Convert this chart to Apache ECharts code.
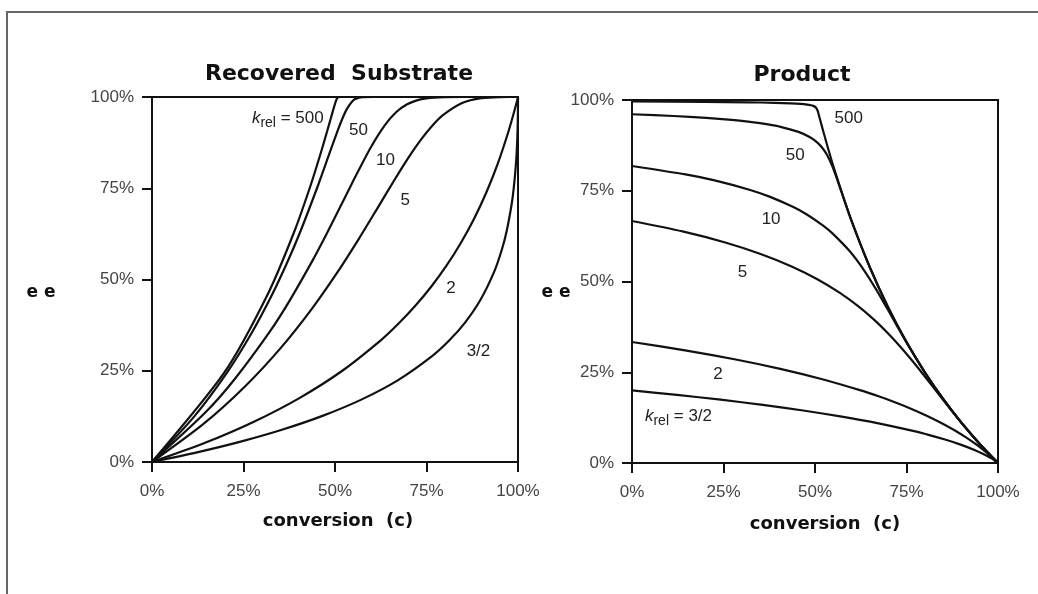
<!DOCTYPE html>
<html><head><meta charset="utf-8">
<script src="https://cdn.jsdelivr.net/npm/echarts@6/dist/echarts.min.js"></script>
<style>html,body{margin:0;padding:0;background:#fff}#c{width:1038px;height:594px}</style>
</head><body><div id="c"></div>
<script>
// Tick values (fractions shown as %)
const xTicks = [0, 0.25, 0.5, 0.75, 1];
const yTicks = [0, 0.25, 0.5, 0.75, 1];
const kNames = ['3/2', '2', '5', '10', '50', '500'];

// conversion c, substrate ee, product ee for each k_rel
const c_15   = [0, .12309, .24223, .35717, .46762, .57322, .67351, .76784, .8125, .85528, .89595, .93419, .95574, .96941, .98240, .98859, .9945, .99732, .99896, .99948, .99974, .99995, 1];
const eeS_15 = [0, .02634, .05573, .08893, .12701, .17157, .22515, .29221, .33333, .38197, .44165, .51950, .58156, .63452, .70474, .75224, .81818, .86777, .91443, .9387, .95626, .9802, 1];
const eeP_15 = [.2, .1876, .17434, .16006, .14460, .12774, .10914, .08835, .07692, .06463, .05129, .03660, .02693, .02002, .01262, .00869, .00452, .00233, .00096, .0005, .00026, .00005, 0];

const c_2   = [0, .145, .28, .405, .52, .625, .67375, .72, .76375, .805, .84375, .88, .91375, .945, .97375, .9898, .99495, .99749, .9995, 1];
const eeS_2 = [0, .05263, .11111, .17647, .25, .33333, .37931, .42857, .48148, .53846, .6, .66667, .73913, .81818, .90476, .96078, .9802, .99005, .998, 1];
const eeP_2 = [.33333, .31034, .28571, .25926, .23077, .2, .18367, .16667, .14894, .13043, .11111, .09091, .06977, .04762, .02439, .0099, .004975, .0025, .0005, 0];

const c_5   = [0, .13811, .25476, .35315, .43616, .50635, .56597, .61699, .66112, .69984, .73438, .76577, .79488, .84879, .89984, .95, 1];
const eeS_5 = [0, .10223, .20766, .31405, .41884, .51929, .61277, .69706, .77054, .83233, .88235, .92122, .95008, .98393, .99681, .9998, 1];
const eeP_5 = [.66667, .63797, .60747, .57524, .54145, .50627, .46993, .43273, .39497, .35699, .31915, .28177, .24517, .17529, .11095, .05263, 0];

const c_10   = [0, .14629, .22563, .32281, .37566, .44079, .47656, .52128, .54631, .59684, .63588, .66827, .69698, .72373, .74951, .79995, .85, .9, .95, 1];
const eeS_10 = [0, .13622, .22680, .35855, .44152, .55577, .62389, .71288, .76334, .86032, .92242, .95942, .98005, .99083, .99610, .99948, .99999, 1, 1, 1];
const eeP_10 = [.81818, .79493, .77840, .75218, .73380, .70508, .68525, .65470, .63391, .58113, .52821, .47626, .42609, .37823, .33290, .24995, .17647, .11111, .05263, 0];

const c_50   = [0, .11334, .2025, .27266, .32792, .37151, .40597, .45506, .48653, .50733, .52172, .53227, .54742, .55916, .57485, .6, .65, .7, .75, .8, .85, .9, .95, 1];
const eeS_50 = [0, .12219, .24137, .35425, .45815, .55133, .63290, .76165, .85015, .90799, .94449, .96693, .98861, .99620, .99930, 1, 1, 1, 1, 1, 1, 1, 1, 1];
const eeP_50 = [.96078, .95589, .95062, .94499, .93901, .93271, .92610, .91210, .89723, .88174, .86583, .84969, .81733, .78539, .73906, .66667, .53846, .42857, .33333, .25, .17647, .11111, .05263, 0];

const c_500   = [0, .19731, .31725, .39019, .43461, .46173, .47833, .48858, .49499, .50171, .50724, .50998, .515, .525, .55, .6, .65, .7, .75, .8, .85, .9, .95, 1];
const eeS_500 = [0, .24457, .46172, .63492, .76160, .84850, .90542, .94166, .96430, .98682, .99894, .99992, 1, 1, 1, 1, 1, 1, 1, 1, 1, 1, 1, 1];
const eeP_500 = [.99601, .99493, .99370, .99231, .99080, .98917, .98746, .98567, .98384, .98007, .97043, .96071, .94175, .90476, .81818, .66667, .53846, .42857, .33333, .25, .17647, .11111, .05263, 0];

// annotation anchors (data coordinates, label centres)
const subLabelAt  = [[0.892, 0.302], [0.817, 0.477], [0.692, 0.716], [0.638, 0.827], [0.564, 0.91], [0.371, 0.942]];
const prodLabelAt = [[0.127, 0.128], [0.235, 0.243], [0.302, 0.525], [0.380, 0.670], [0.446, 0.849], [0.592, 0.950]];

const convs = [c_15, c_2, c_5, c_10, c_50, c_500];
const subs = [eeS_15, eeS_2, eeS_5, eeS_10, eeS_50, eeS_500];
const prods = [eeP_15, eeP_2, eeP_5, eeP_10, eeP_50, eeP_500];

const pair = (xs, ys) => xs.map((x, i) => [x, ys[i]]);
const pct = v => Math.round(v * 100) + '%';
const INK = '#111';
const richK = {
  k: {fontStyle: 'italic', fontSize: 17, fontFamily: 'Liberation Sans', color: '#222'},
  r: {fontSize: 14, fontFamily: 'Liberation Sans', color: '#222', padding: [10, 0, 0, 0]},
  t: {fontSize: 17, fontFamily: 'Liberation Sans', color: '#222'}
};

function labelText(name, full) {
  return full ? '{k|k}{r|rel}{t| = ' + name + '}' : '{t|' + name + '}';
}

function mainX(grid) {
  return {
    gridIndex: grid, type: 'value', min: 0, max: 1, interval: 0.25,
    axisLine: {show: true, onZero: false, lineStyle: {color: INK, width: 2}},
    axisTick: {show: true, length: 10, lineStyle: {color: INK, width: 2}},
    axisLabel: {formatter: pct, margin: 21, fontSize: 17, fontFamily: 'Liberation Sans', color: '#444'},
    splitLine: {show: false},
    name: 'conversion  (c)', nameLocation: 'middle', nameGap: grid === 0 ? 50 : 52,
    nameTextStyle: {fontFamily: 'DejaVu Sans', fontWeight: 'bold', fontSize: 18, color: '#111', padding: grid === 0 ? [0, 0, 0, 6] : [0, 0, 0, 20]}
  };
}
function mainY(grid) {
  return {
    gridIndex: grid, type: 'value', min: 0, max: 1, interval: 0.25,
    axisLine: {show: true, onZero: false, lineStyle: {color: INK, width: 2}},
    axisTick: {show: true, length: 10, lineStyle: {color: INK, width: 2}},
    axisLabel: {formatter: pct, margin: 18, fontSize: 17, fontFamily: 'Liberation Sans', color: '#444'},
    splitLine: {show: false}
  };
}
function frameAxis(grid, pos) {
  return {
    gridIndex: grid, type: 'value', min: 0, max: 1, position: pos,
    axisLine: {show: true, onZero: false, lineStyle: {color: INK, width: 2}},
    axisTick: {show: false}, axisLabel: {show: false}, splitLine: {show: false}
  };
}

const series = [];
[0, 1].forEach(panel => {
  convs.forEach((cs, i) => {
    const ys = panel === 0 ? subs[i] : prods[i];
    const at = panel === 0 ? subLabelAt[i] : prodLabelAt[i];
    const full = panel === 0 ? (i === 5) : (i === 0);
    series.push({
      type: 'line', xAxisIndex: panel * 2, yAxisIndex: panel * 2,
      data: pair(cs, ys), showSymbol: false, smooth: 0.25,
      lineStyle: {color: INK, width: 2.2}, silent: true,
      markPoint: {
        symbol: 'circle', symbolSize: 0, silent: true,
        data: [{coord: at, label: {show: true, position: 'inside', formatter: labelText(kNames[i], full), rich: richK}}]
      }
    });
  });
});

const chart = echarts.init(document.getElementById('c'), null, {renderer: 'canvas'});
chart.setOption({
  animation: false,
  backgroundColor: '#fff',
  grid: [
    {left: 152, top: 97, width: 366, height: 365},
    {left: 632, top: 100, width: 366, height: 363}
  ],
  xAxis: [mainX(0), frameAxis(0, 'top'), mainX(1), frameAxis(1, 'top')],
  yAxis: [mainY(0), frameAxis(0, 'right'), mainY(1), frameAxis(1, 'right')],
  series: series,
  graphic: [
    {type: 'rect', shape: {x: 7, y: 12, width: 1060, height: 620}, style: {fill: 'none', stroke: '#666', lineWidth: 2}, silent: true},
    {type: 'text', x: 339, y: 74, style: {text: 'Recovered  Substrate', fontFamily: 'DejaVu Sans', fontWeight: 'bold', fontSize: 22, fill: '#111', align: 'center', verticalAlign: 'middle'}},
    {type: 'text', x: 802, y: 75, style: {text: 'Product', fontFamily: 'DejaVu Sans', fontWeight: 'bold', fontSize: 22, fill: '#111', align: 'center', verticalAlign: 'middle'}},
    {type: 'text', x: 41, y: 293, style: {text: 'e e', fontFamily: 'DejaVu Sans', fontWeight: 'bold', fontSize: 17, fill: '#111', align: 'center', verticalAlign: 'middle'}},
    {type: 'text', x: 556, y: 293, style: {text: 'e e', fontFamily: 'DejaVu Sans', fontWeight: 'bold', fontSize: 17, fill: '#111', align: 'center', verticalAlign: 'middle'}}
  ]
});
</script></body></html>
